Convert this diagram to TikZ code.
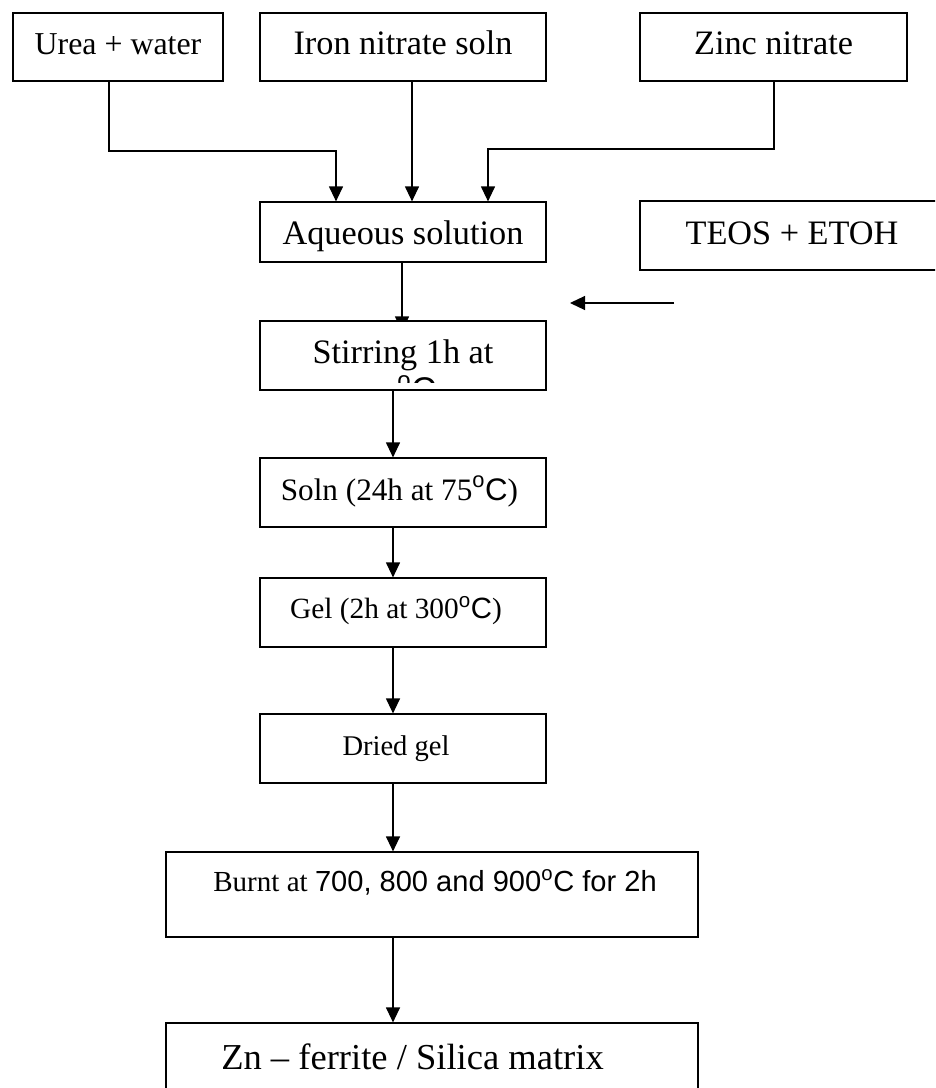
\documentclass[tikz,border=0pt]{standalone}
\usepackage{fontspec}
\setmainfont{Liberation Serif}
\newfontfamily\arialf{Liberation Sans}
\usetikzlibrary{arrows.meta,backgrounds}
\begin{document}
\begin{tikzpicture}[x=0.75pt,y=-0.75pt,
  box/.style={draw, fill=white, line width=0.9pt, inner sep=0pt, text depth=7.5pt},
  arr/.style={-{Triangle[length=11.25pt,width=10.5pt]}, line width=0.9pt},
  fA/.style={font=\fontsize{25.7pt}{30pt}\selectfont},
  fU/.style={font=\fontsize{23.9pt}{28pt}\selectfont},
  fS/.style={font=\fontsize{23.4pt}{28pt}\selectfont},
  fG/.style={font=\fontsize{22pt}{26pt}\selectfont},
  fD/.style={font=\fontsize{21.4pt}{25pt}\selectfont},
  fB/.style={font=\fontsize{21.8pt}{26pt}\selectfont},
  fZ/.style={font=\fontsize{27.4pt}{32pt}\selectfont}]
\useasboundingbox (0,0) rectangle (935,1088);
\clip (0,0) rectangle (935,1088);

% top row
\node[box, fU, minimum width=157.5pt, minimum height=51pt, text height=19.5pt] (urea) at (118,47) {Urea + water};
\node[box, fA, minimum width=214.5pt, minimum height=51pt, text height=19.5pt] (iron) at (403,47) {Iron nitrate soln};
\node[box, fA, minimum width=200.25pt, minimum height=51pt, text height=19.5pt] (zinc) at (773.5,47) {Zinc nitrate};

% second row
\node[box, fA, minimum width=214.5pt, minimum height=45pt, text height=25.5pt] (aq) at (403,232) {Aqueous solution};
\node[box, fA, minimum width=228pt, minimum height=51.75pt, text height=20.25pt] (teos) at (792,235.5) {TEOS + ETOH};

% process chain
\node[box, fA, minimum width=214.5pt, minimum height=51.75pt, text height=18.75pt] (stir) at (403,355.5) {Stirring 1h at};
\begin{scope}
  \clip (261,322) rectangle (545,382);
  \node[anchor=base west, inner sep=0pt, fA] (stirB) at (397,401) {\arialf\textsuperscript{o}C};
\end{scope}
\node[box, fS, minimum width=214.5pt, minimum height=51.75pt, text height=18.75pt] (soln) at (403,492.5) {Soln (24h at 75{\arialf\textsuperscript{o}C})\hspace*{5.25pt}};
\node[box, fG, minimum width=214.5pt, minimum height=51.75pt, text height=15.75pt] (gel) at (403,612.5) {Gel (2h at 300{\arialf\textsuperscript{o}C})\hspace*{10.5pt}};
\node[box, fD, minimum width=214.5pt, minimum height=51.75pt, text height=17.25pt] (dried) at (403,748.5) {Dried gel\hspace*{10.5pt}};
\node[box, fB, minimum width=399pt, minimum height=63.75pt, text height=2.25pt] (burnt) at (432,894.5) {\hspace*{4.5pt}Burnt at {\arialf 700, 800 and 900\textsuperscript{o}C for 2h}};
\node[box, fZ, minimum width=399pt, minimum height=57.75pt, text height=18.75pt] (zn) at (432,1061.5) {Zn -- ferrite / Silica matrix\hspace*{29.25pt}};

% connectors
\draw[arr] (urea.south -| 109,0) |- (336,151) -- (aq.north -| 336,0);
\draw[arr] (iron.south -| 412,0) -- (aq.north -| 412,0);
\draw[arr] (zinc.south -| 774,0) |- (488,149) -- (aq.north -| 488,0);

\coordinate (tin) at (674,303);
\coordinate (tout) at (570,303);
\draw[arr] (tin) -- (tout);

\begin{scope}[on background layer]
  \draw[arr, shorten >=-8.25pt] (aq.south -| 402,0) -- (stir.north -| 402,0);
\end{scope}

\draw[arr] (stir.south -| 393,0) -- (soln.north -| 393,0);
\draw[arr] (soln.south -| 393,0) -- (gel.north -| 393,0);
\draw[arr] (gel.south -| 393,0) -- (dried.north -| 393,0);
\draw[arr] (dried.south -| 393,0) -- (burnt.north -| 393,0);
\draw[arr] (burnt.south -| 393,0) -- (zn.north -| 393,0);
\end{tikzpicture}
\end{document}
